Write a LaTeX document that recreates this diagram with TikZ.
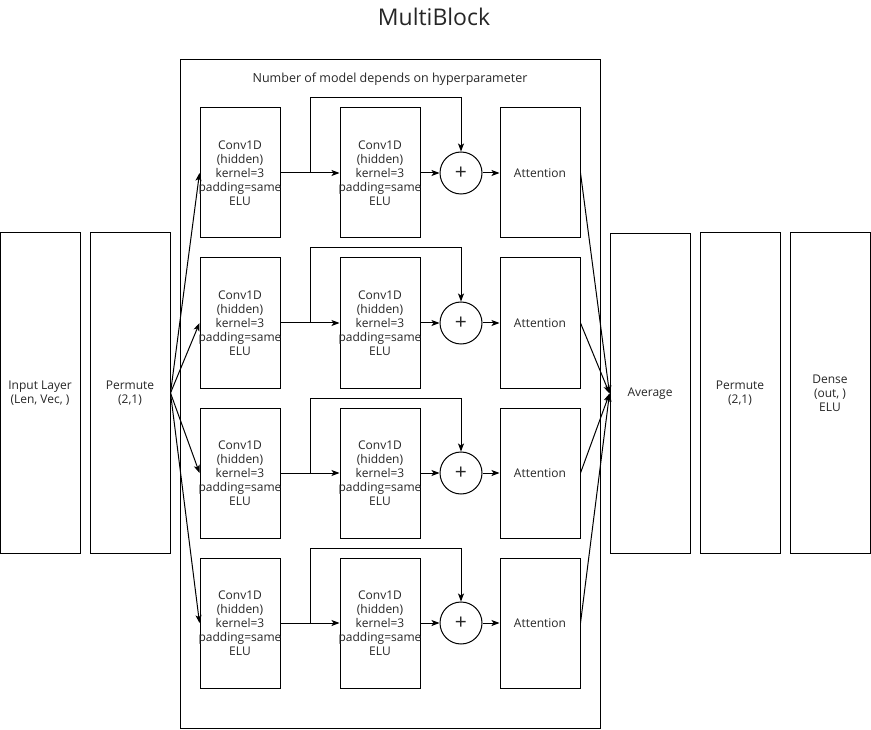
\documentclass[tikz,border=0pt]{standalone}
\usepackage{fontspec}
\setmainfont{Open Sans}
\usetikzlibrary{arrows.meta}

\tikzset{
  layer/.style={draw, line width=1pt, minimum width=80pt, inner sep=0pt},
  txt/.style={align=center, font=\fontsize{12}{14}\selectfont, text=black!85},
  sum/.style={draw, circle, line width=1pt, minimum size=42pt, inner sep=0pt},
  arr/.style={-{Stealth[length=8pt,width=6pt,inset=2pt]}, line width=1pt}
}

\begin{document}
\begin{tikzpicture}[x=1pt,y=-1pt]
\useasboundingbox (0,0) rectangle (871,730);

\node[txt, font=\fontsize{23}{26}\selectfont] (title) at (434,17) {MultiBlock};

% container
\draw[line width=1pt] (180,60) rectangle (600,728);
\node[txt, font=\fontsize{12.5}{14}\selectfont] (hdr) at (390,79) {Number of model depends on hyperparameter};

\node[layer, minimum height=320pt] (in) at (40,393) {};
\node[txt] at (in) {Input Layer\\(Len, Vec, )};
\node[layer, minimum height=320pt] (perm) at (130,393) {};
\node[txt] at (perm) {Permute\\(2,1)};

\node[layer, minimum height=319pt] (avg) at (650,393.5) {};
\node[txt] at (avg) {Average};
\node[layer, minimum height=320pt] (perm2) at (740,393) {};
\node[txt] at (perm2) {Permute\\(2,1)};
\node[layer, minimum height=320pt] (dense) at (830,393) {};
\node[txt] at (dense) {Dense\\(out, )\\ELU};

\foreach \i/\y in {1/173,2/323,3/473,4/623}{
  \node[layer, minimum height=130pt] (ca\i) at (240,\y) {};
  \node[txt] at (ca\i) {Conv1D\\(hidden)\\kernel=3\\padding=same\\ELU};
  \node[layer, minimum height=130pt] (cb\i) at (380,\y) {};
  \node[txt] at (cb\i) {Conv1D\\(hidden)\\kernel=3\\padding=same\\ELU};
  \node[sum] (add\i) at (461,\y) {};
  \node[txt, font=\fontsize{21}{24}\selectfont] at (add\i) {+};
  \node[layer, minimum height=130pt] (att\i) at (540,\y) {};
  \node[txt] at (att\i) {Attention};
  \coordinate (skip\i) at (310,\y);

  \draw[arr] (perm.east) -- (ca\i.west);
  \draw[arr] (ca\i.east) -- (cb\i.west);
  \draw[arr] (skip\i) -- ++(0,-75) -| (add\i.north);
  \draw[arr] (cb\i.east) -- (add\i.west);
  \draw[arr] (add\i.east) -- (att\i.west);
  \draw[arr] (att\i.east) -- (avg.west);
}
\end{tikzpicture}
\end{document}
